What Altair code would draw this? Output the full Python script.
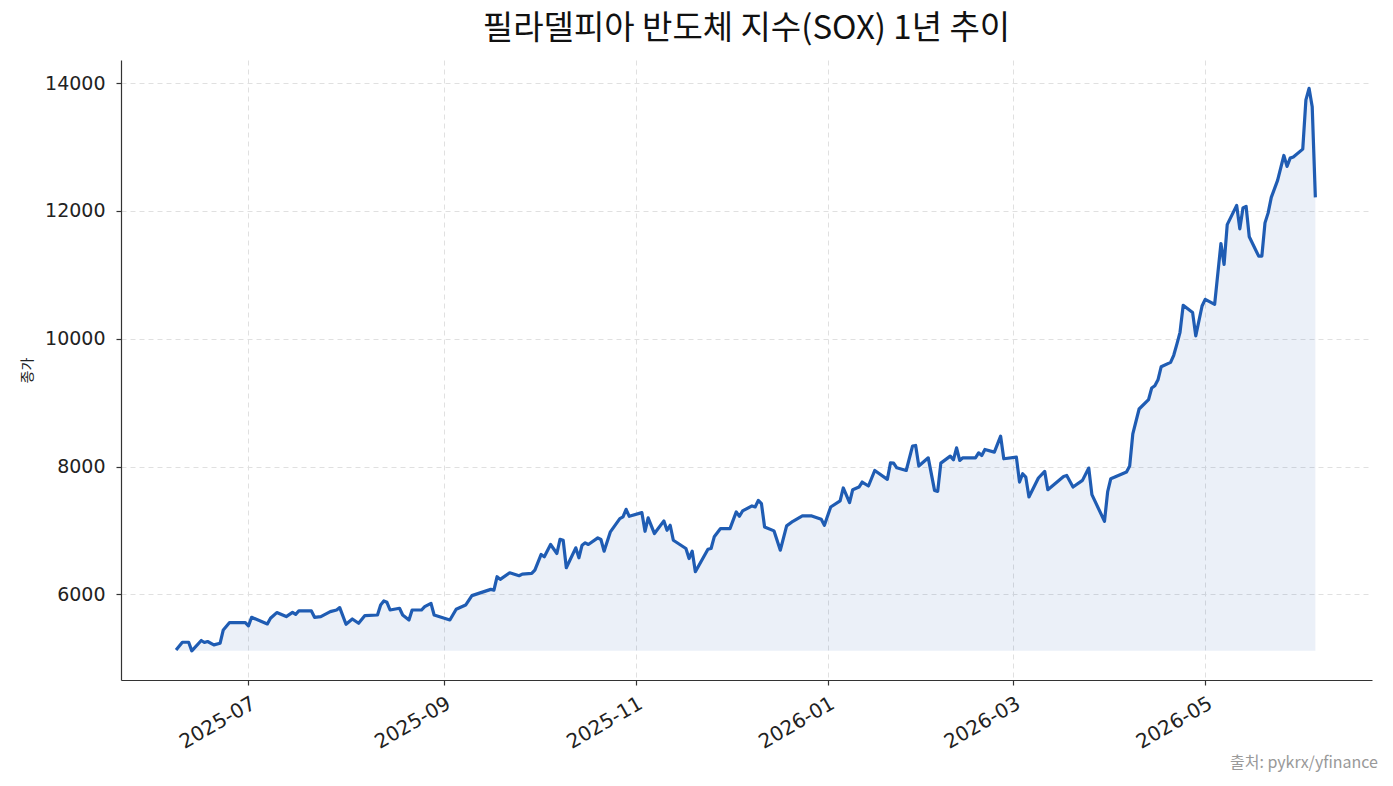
import altair as alt
import pandas as pd

title_text = "필라델피아 반도체 지수(SOX) 1년 추이"
y_title = "종가"
source_text = "출처: pykrx/yfinance"

dates = [
    "2025-06-08", "2025-06-10", "2025-06-12", "2025-06-13", "2025-06-16", "2025-06-17", "2025-06-18",
    "2025-06-20", "2025-06-22", "2025-06-23", "2025-06-25", "2025-06-30", "2025-07-01", "2025-07-02",
    "2025-07-07", "2025-07-08", "2025-07-10", "2025-07-13", "2025-07-15", "2025-07-16", "2025-07-17",
    "2025-07-21", "2025-07-22", "2025-07-24", "2025-07-27", "2025-07-29", "2025-07-30", "2025-08-01",
    "2025-08-03", "2025-08-05", "2025-08-07", "2025-08-11", "2025-08-12", "2025-08-13", "2025-08-14",
    "2025-08-15", "2025-08-18", "2025-08-19", "2025-08-21", "2025-08-22", "2025-08-25", "2025-08-26",
    "2025-08-28", "2025-08-29", "2025-09-03", "2025-09-05", "2025-09-08", "2025-09-10", "2025-09-16",
    "2025-09-17", "2025-09-18", "2025-09-19", "2025-09-22", "2025-09-25", "2025-09-26", "2025-09-29",
    "2025-09-30", "2025-10-02", "2025-10-03", "2025-10-05", "2025-10-07", "2025-10-08", "2025-10-09",
    "2025-10-10", "2025-10-13", "2025-10-14", "2025-10-15", "2025-10-16", "2025-10-17", "2025-10-20",
    "2025-10-21", "2025-10-22", "2025-10-24", "2025-10-27", "2025-10-28", "2025-10-29", "2025-10-30",
    "2025-11-03", "2025-11-04", "2025-11-05", "2025-11-07", "2025-11-10", "2025-11-11", "2025-11-12",
    "2025-11-13", "2025-11-17", "2025-11-18", "2025-11-19", "2025-11-20", "2025-11-24", "2025-11-25",
    "2025-11-26", "2025-11-28", "2025-12-01", "2025-12-03", "2025-12-04", "2025-12-05", "2025-12-08",
    "2025-12-09", "2025-12-10", "2025-12-11", "2025-12-12", "2025-12-15", "2025-12-17", "2025-12-19",
    "2025-12-21", "2025-12-24", "2025-12-27", "2025-12-30", "2025-12-31", "2026-01-02", "2026-01-05",
    "2026-01-06", "2026-01-08", "2026-01-09", "2026-01-11", "2026-01-12", "2026-01-14", "2026-01-16",
    "2026-01-20", "2026-01-21", "2026-01-22", "2026-01-23", "2026-01-26", "2026-01-28", "2026-01-29",
    "2026-01-30", "2026-02-02", "2026-02-04", "2026-02-05", "2026-02-06", "2026-02-09", "2026-02-10",
    "2026-02-11", "2026-02-12", "2026-02-13", "2026-02-17", "2026-02-18", "2026-02-19", "2026-02-20",
    "2026-02-23", "2026-02-25", "2026-02-26", "2026-03-02", "2026-03-03", "2026-03-04", "2026-03-05",
    "2026-03-06", "2026-03-09", "2026-03-11", "2026-03-12", "2026-03-17", "2026-03-18", "2026-03-20",
    "2026-03-23", "2026-03-25", "2026-03-26", "2026-03-30", "2026-03-31", "2026-04-01", "2026-04-06",
    "2026-04-07", "2026-04-08", "2026-04-10", "2026-04-13", "2026-04-14", "2026-04-15", "2026-04-16",
    "2026-04-17", "2026-04-20", "2026-04-21", "2026-04-22", "2026-04-23", "2026-04-24", "2026-04-27",
    "2026-04-28", "2026-04-30", "2026-05-01", "2026-05-04", "2026-05-06", "2026-05-07", "2026-05-08",
    "2026-05-11", "2026-05-12", "2026-05-13", "2026-05-14", "2026-05-15", "2026-05-18", "2026-05-19",
    "2026-05-20", "2026-05-21", "2026-05-22", "2026-05-24", "2026-05-26", "2026-05-27", "2026-05-28",
    "2026-05-29", "2026-06-01", "2026-06-02", "2026-06-03", "2026-06-04", "2026-06-05",
]

closes = [
    5131, 5251, 5251, 5116, 5278, 5247, 5262,
    5209, 5236, 5443, 5559, 5559, 5506, 5641,
    5537, 5626, 5715, 5652, 5719, 5688, 5740,
    5740, 5641, 5652, 5730, 5755, 5793, 5532,
    5615, 5548, 5668, 5677, 5833, 5896, 5875,
    5755, 5782, 5677, 5599, 5755, 5755, 5808,
    5860, 5677, 5599, 5766, 5833, 5980, 6078,
    6067, 6276, 6234, 6338, 6291, 6317, 6327,
    6379, 6624, 6588, 6780, 6639, 6862, 6847,
    6416, 6728, 6572, 6769, 6806, 6780, 6884,
    6858, 6675, 6978, 7185, 7211, 7330, 7221,
    7279, 6987, 7196, 6951, 7149, 7003, 7081,
    6847, 6717, 6561, 6675, 6354, 6706, 6717,
    6900, 7029, 7029, 7290, 7221, 7305, 7383,
    7367, 7471, 7419, 7055, 6993, 6691, 7071,
    7143, 7227, 7227, 7174, 7081, 7367, 7461,
    7664, 7435, 7637, 7679, 7757, 7695, 7938,
    7798, 8058, 8053, 7980, 7938, 8319, 8329,
    8007, 8136, 7627, 7611, 8053, 8163, 8105,
    8292, 8095, 8136, 8136, 8214, 8173, 8267,
    8225, 8475, 8121, 8147, 7757, 7887, 7834,
    7524, 7820, 7924, 7637, 7845, 7860, 7679,
    7783, 7976, 7560, 7143, 7602, 7809, 7913,
    8007, 8511, 8900, 9046, 9228, 9264, 9357,
    9560, 9629, 9740, 9914, 10100, 10522, 10408,
    10044, 10511, 10616, 10538, 11489, 11162, 11785,
    12086, 11718, 12046, 12071, 11594, 11291, 11291,
    11812, 11968, 12211, 12476, 12866, 12695, 12825,
    12841, 12966, 13735, 13917, 13630, 12211,
]

y_ticks = [6000, 8000, 10000, 12000, 14000]
x_tick_months = [(2025, 7), (2025, 9), (2025, 11), (2026, 1), (2026, 3), (2026, 5)]

df = pd.DataFrame({"date": [d + "T00:00:00" for d in dates], "close": closes})
base_value = min(closes)
df["base"] = base_value

FONT = "Noto Sans CJK KR"
TICK_FONT = "DejaVu Sans"
LINE_COLOR = "#1f5cb3"

x_enc = alt.X(
    "date:T",
    scale=alt.Scale(domain=[alt.DateTime(year=2025, month=5, date=21, hours=12),
                            alt.DateTime(year=2026, month=6, date=23)], nice=False),
    axis=alt.Axis(
        title=None,
        values=[alt.DateTime(year=y, month=m, date=1) for y, m in x_tick_months],
        format="%Y-%m",
        labelAngle=-30,
        labelAlign="right",
        labelBaseline="top",
        labelFontSize=20,
        labelPadding=8,
        tickSize=5,
        grid=True,
    ),
)
y_scale = alt.Scale(domain=[4660, 14360], nice=False, zero=False)

area = alt.Chart(df).mark_area(color=LINE_COLOR, opacity=0.09).encode(
    x=x_enc,
    y=alt.Y("close:Q", scale=y_scale,
            axis=alt.Axis(title=y_title, values=y_ticks, format="d", labelFontSize=19,
                          labelPadding=11, titleFontSize=14, titleFontWeight="normal",
                          titlePadding=10, tickSize=5, grid=True)),
    y2="base:Q",
)

line = alt.Chart(df).mark_line(color=LINE_COLOR, strokeWidth=3.2, strokeJoin="round").encode(
    x="date:T",
    y="close:Q",
)

src = alt.Chart(pd.DataFrame({"t": [source_text]})).mark_text(
    align="right", baseline="middle", fontSize=16, color="#999999", font=FONT
).encode(x=alt.value(1257), y=alt.value(703), text="t:N")

chart = alt.layer(area, line, src).properties(
    width=1251,
    height=620,
    title=alt.TitleParams(title_text, fontSize=33, fontWeight="normal", font=FONT,
                          color="#111111", anchor="middle", offset=14),
    padding={"left": 121, "top": 60, "right": 21, "bottom": 106},
    autosize=alt.AutoSizeParams(type="none"),
).configure_view(stroke=None).configure_axis(
    labelFont=TICK_FONT, titleFont=FONT, labelColor="#222222", titleColor="#222222",
    domainColor="#333333", tickColor="#333333", domainWidth=1.2, tickWidth=1.2,
    gridColor="#e0e0e0", gridDash=[5, 4], gridWidth=1,
)

chart.save("out.html", embed_options={"renderer": "svg", "actions": False})
